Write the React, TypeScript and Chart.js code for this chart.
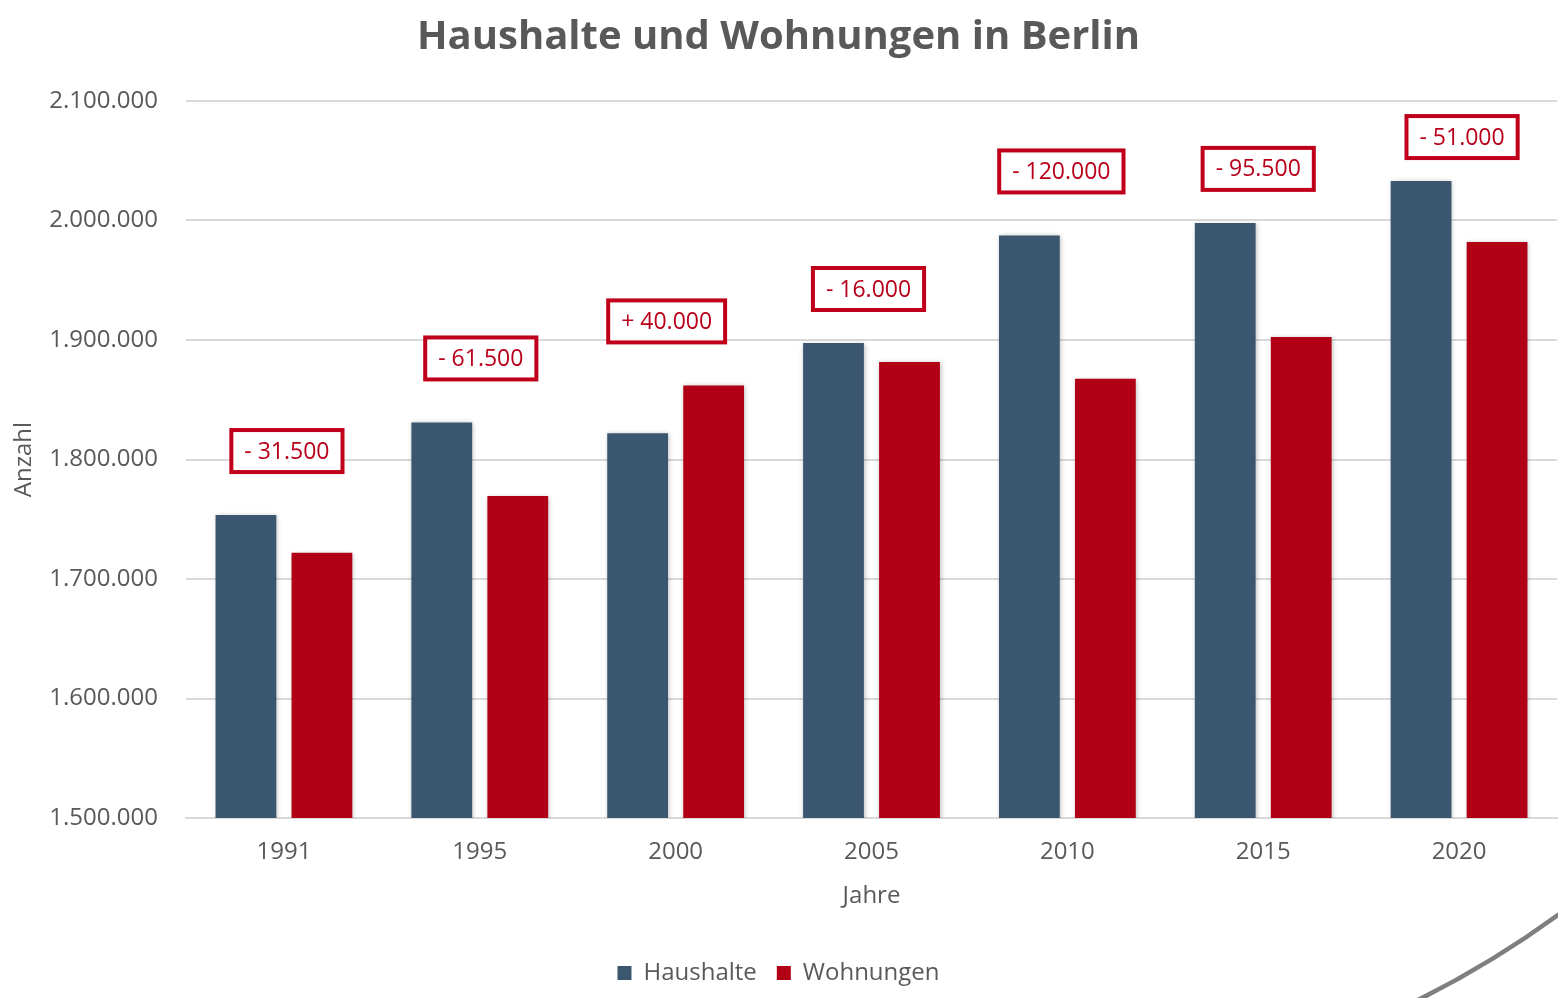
import React, { useEffect, useRef } from "react";
import { Chart, registerables } from "chart.js";

Chart.register(...registerables);

const years = ["1991", "1995", "2000", "2005", "2010", "2015", "2020"];
const haushalte = [1753500, 1831000, 1822000, 1897500, 1987500, 1998000, 2033000];
const wohnungen = [1722000, 1769500, 1862000, 1881500, 1867500, 1902500, 1982000];
const diffLabels = ["- 31.500", "- 61.500", "+ 40.000", "- 16.000", "- 120.000", "- 95.500", "- 51.000"];
const yTicks = [1500000, 1600000, 1700000, 1800000, 1900000, 2000000, 2100000];

const FONT = "'Open Sans', 'Noto Sans', sans-serif";
const GRAY = "#595959";
const BLUE = "#3a576f";
const RED = "#b10016";

const fmt = (v: number) => {
  const s = Math.round(v).toString();
  return s.replace(/\B(?=(\d{3})+(?!\d))/g, ".");
};

const shadowPlugin = {
  id: "barShadow",
  beforeDatasetsDraw(chart: any) {
    const ctx = chart.ctx;
    ctx.save();
    ctx.shadowColor = "rgba(0,0,0,0.28)";
    ctx.shadowBlur = 5;
    ctx.shadowOffsetX = 1;
    ctx.shadowOffsetY = 1;
  },
  afterDatasetsDraw(chart: any) {
    chart.ctx.restore();
  },
};

const labelGap = [64, 64, 64, 54, 64, 54, 44];
const labelNudgeX = [3, 1, -9, -3, -6, -5, 3];

const diffBoxPlugin = {
  id: "diffBoxes",
  afterDatasetsDraw(chart: any) {
    const ctx = chart.ctx;
    const m0 = chart.getDatasetMeta(0).data;
    const m1 = chart.getDatasetMeta(1).data;
    ctx.save();
    ctx.font = `23px ${FONT}`;
    diffLabels.forEach((txt, i) => {
      const a = m0[i];
      const b = m1[i];
      if (!a || !b) return;
      const cx = (a.x + b.x) / 2 + labelNudgeX[i];
      const top = Math.min(a.y, b.y);
      const cy = top - labelGap[i];
      const tw = ctx.measureText(txt).width;
      const w = tw + 26;
      const h = 42;
      ctx.fillStyle = "#ffffff";
      ctx.fillRect(cx - w / 2, cy - h / 2, w, h);
      ctx.lineWidth = 4;
      ctx.strokeStyle = "#c0001a";
      ctx.strokeRect(cx - w / 2, cy - h / 2, w, h);
      ctx.fillStyle = "#b8001a";
      ctx.textAlign = "center";
      ctx.textBaseline = "middle";
      ctx.fillText(txt, cx, cy + 1);
    });
    ctx.restore();
  },
  afterDraw(chart: any) {
    const ctx = chart.ctx;
    ctx.save();
    ctx.strokeStyle = "#7f7f7f";
    ctx.lineWidth = 4.5;
    ctx.beginPath();
    ctx.moveTo(1418, 1000);
    ctx.quadraticCurveTo(1494, 962, 1562, 912);
    ctx.stroke();
    ctx.restore();
  },
};

export default function App() {
  const ref = useRef<HTMLCanvasElement | null>(null);

  useEffect(() => {
    document.body.style.margin = "0";
    const canvas = ref.current;
    if (!canvas) return;
    const chart = new Chart(canvas, {
      type: "bar",
      data: {
        labels: years,
        datasets: [
          {
            label: "Haushalte",
            data: haushalte,
            backgroundColor: BLUE,
            categoryPercentage: 0.776,
            barPercentage: 0.8,
          },
          {
            label: "Wohnungen",
            data: wohnungen,
            backgroundColor: RED,
            categoryPercentage: 0.776,
            barPercentage: 0.8,
          },
        ],
      },
      options: {
        animation: false,
        responsive: false,
        maintainAspectRatio: false,
        layout: { padding: { left: 0, right: 1, top: 0, bottom: 3 } },
        plugins: {
          title: {
            display: true,
            text: "Haushalte und Wohnungen in Berlin",
            color: GRAY,
            font: { family: FONT, size: 40, weight: "bold" },
            padding: { top: 14, bottom: 39 },
          },
          legend: {
            display: true,
            position: "bottom",
            labels: {
              color: GRAY,
              font: { family: FONT, size: 24 },
              boxWidth: 14,
              boxHeight: 14,
              padding: 20,
            },
          },
          tooltip: { enabled: false },
        },
        scales: {
          x: {
            grid: { display: true, drawOnChartArea: false, drawTicks: false },
            border: { display: true, color: "#d9d9d9", width: 2 },
            ticks: { color: GRAY, font: { family: FONT, size: 24 }, padding: 20 },
            title: {
              display: true,
              text: "Jahre",
              color: GRAY,
              font: { family: FONT, size: 24 },
              padding: { top: 10, bottom: 30 },
            },
            afterFit(scale: any) {
              scale.height = 123;
            },
          },
          y: {
            min: 1500000,
            max: 2100000,
            afterBuildTicks(scale: any) {
              scale.ticks = yTicks.map((v) => ({ value: v }));
            },
            grid: { color: "#d9d9d9", lineWidth: 2, drawTicks: false },
            border: { display: false },
            ticks: {
              color: GRAY,
              font: { family: FONT, size: 24 },
              padding: 28,
              callback: (v: any) => fmt(Number(v)),
            },
            title: {
              display: true,
              text: "Anzahl",
              color: GRAY,
              font: { family: FONT, size: 24 },
              padding: { top: 10, bottom: 0 },
            },
            afterFit(scale: any) {
              scale.width = 186;
            },
          },
        },
      },
      plugins: [shadowPlugin, diffBoxPlugin],
    } as any);
    return () => chart.destroy();
  }, []);

  return (
    <div style={{ position: "absolute", left: 0, top: 0, width: 1558, height: 998, background: "#fff" }}>
      <canvas ref={ref} width={1558} height={998} style={{ display: "block", width: 1558, height: 998 }} />
    </div>
  );
}
